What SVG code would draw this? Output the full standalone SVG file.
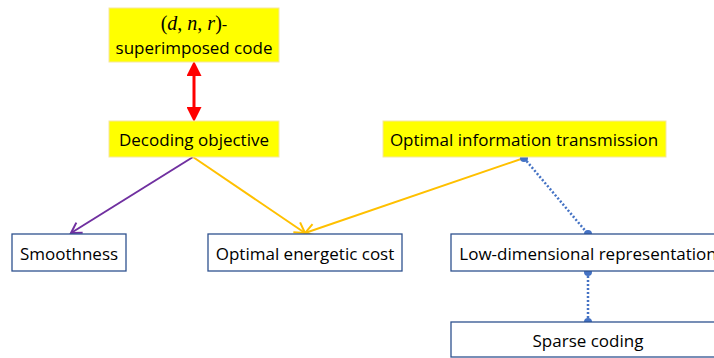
<svg xmlns="http://www.w3.org/2000/svg" width="714" height="358" viewBox="0 0 714 358">
<style>
.y{fill:#FFFF00;stroke:#F5E6A0;stroke-width:1}
.b{fill:#FFFFFF;stroke:#2F528F;stroke-width:1.3}
.t{font-family:"Open Sans","Liberation Sans",sans-serif;font-size:17px;fill:#000;text-anchor:middle;dominant-baseline:central}
.s{font-family:"Liberation Serif",serif;font-size:20px}
.m{font-family:"Liberation Serif",serif;font-size:20px;font-style:italic}
</style>
<defs>
<marker id="rh" markerWidth="5" markerHeight="5" refX="3" refY="2.5" orient="auto-start-reverse" markerUnits="strokeWidth"><path d="M0,0 L5,2.5 L0,5 Z" fill="#FF0000"/></marker>
<marker id="ph" markerWidth="14" markerHeight="14" refX="11" refY="7" orient="auto" markerUnits="userSpaceOnUse"><path d="M1,1 L11,7 L1,13" fill="none" stroke="#7030A0" stroke-width="2"/></marker>
<marker id="oh" markerWidth="14" markerHeight="14" refX="11" refY="7" orient="auto" markerUnits="userSpaceOnUse"><path d="M1,1 L11,7 L1,13" fill="none" stroke="#FFC000" stroke-width="2"/></marker>
<marker id="dot" markerWidth="10" markerHeight="10" refX="5" refY="5" markerUnits="userSpaceOnUse"><circle cx="5" cy="5" r="4" fill="#4472C4"/></marker>
</defs>
<g id="connectors">
<line x1="194" y1="67" x2="194" y2="116" stroke="#FF0000" stroke-width="3" marker-start="url(#rh)" marker-end="url(#rh)"/>
<line x1="193" y1="157" x2="71" y2="233" stroke="#7030A0" stroke-width="2" marker-end="url(#ph)"/>
<line x1="193" y1="157" x2="305" y2="233" stroke="#FFC000" stroke-width="2" marker-end="url(#oh)"/>
<line x1="524" y1="158" x2="305" y2="233" stroke="#FFC000" stroke-width="2" marker-end="url(#oh)"/>
<line x1="524" y1="158" x2="588" y2="234" stroke="#4472C4" stroke-width="2.5" stroke-dasharray="2 2" marker-start="url(#dot)" marker-end="url(#dot)"/>
<line x1="588" y1="272" x2="588" y2="322" stroke="#4472C4" stroke-width="2.5" stroke-dasharray="2 2" marker-start="url(#dot)" marker-end="url(#dot)"/>
</g>
<g id="code">
<rect class="y" x="109" y="8" width="170" height="54"/>
<text class="t" x="194" y="23"><tspan class="s">(</tspan><tspan class="m">d</tspan><tspan class="s">, </tspan><tspan class="m">n</tspan><tspan class="s">, </tspan><tspan class="m">r</tspan><tspan class="s">)</tspan>-</text>
<text class="t" x="194" y="47">superimposed code</text>
</g>
<g id="decoding">
<rect class="y" x="109" y="121" width="170" height="36"/>
<text class="t" x="194" y="139">Decoding objective</text>
</g>
<g id="oit">
<rect class="y" x="383" y="121" width="283" height="36"/>
<text class="t" x="524" y="139">Optimal information transmission</text>
</g>
<g id="smooth">
<rect class="b" x="12" y="234" width="114" height="37"/>
<text class="t" x="69" y="253">Smoothness</text>
</g>
<g id="energy">
<rect class="b" x="208" y="234" width="194" height="37"/>
<text class="t" x="305" y="253">Optimal energetic cost</text>
</g>
<g id="lowdim">
<rect class="b" x="451" y="234" width="274" height="37"/>
<text class="t" x="588" y="253">Low-dimensional representation</text>
</g>
<g id="sparse">
<rect class="b" x="451" y="322" width="274" height="35"/>
<text class="t" x="588" y="340">Sparse coding</text>
</g>
</svg>
